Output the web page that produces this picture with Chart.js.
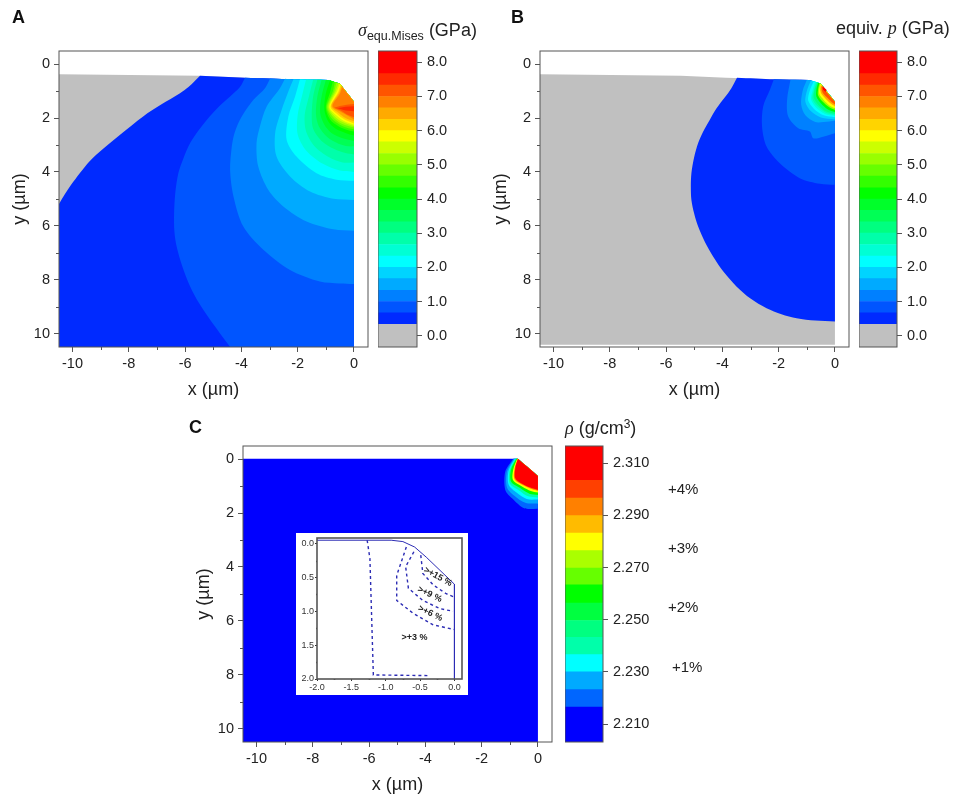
<!DOCTYPE html>
<html>
<head>
<meta charset="utf-8">
<script src="https://cdn.jsdelivr.net/npm/chart.js@4"></script>
<style>
  html, body { margin: 0; background: #fff; overflow: hidden; }
  #page { position: relative; width: 957px; height: 802px; font-family: "Liberation Sans", Arial, sans-serif; color: #222; filter: blur(0.35px); }
  canvas { position: absolute; }
  .txt { position: absolute; white-space: nowrap; line-height: 1; }
  .txt i { font-family: "Liberation Serif", serif; }
  .letter { font-weight: bold; font-size: 18px; color: #111; }
  .cb { font-size: 18px; }
  .cb sub { font-size: 12.5px; vertical-align: -4px; }
  .cb sup { font-size: 12px; vertical-align: 6px; line-height: 0; }
  .pct { font-size: 15px; }
</style>
</head>
<body>
<div id="page">
  <div class="txt letter" style="left:12px;top:8px">A</div>
  <div class="txt letter" style="left:511px;top:8px">B</div>
  <div class="txt letter" style="left:189px;top:418px">C</div>
  <div class="txt cb" style="left:358px;top:21px"><i>σ</i><sub>equ.Mises</sub> (GPa)</div>
  <div class="txt cb" style="left:836px;top:19px">equiv. <i>p</i> (GPa)</div>
  <div class="txt cb" style="left:565px;top:419px"><i>ρ</i> (g/cm<sup>3</sup>)</div>
  <div class="txt pct" style="left:668px;top:481px">+4%</div>
  <div class="txt pct" style="left:668px;top:540px">+3%</div>
  <div class="txt pct" style="left:668px;top:599px">+2%</div>
  <div class="txt pct" style="left:672px;top:659px">+1%</div>
</div>
<script>
const axisColor = '#555';
const textColor = '#222';
const xTicks = [-10, -8, -6, -4, -2, 0];
const xMinor = [-9, -7, -5, -3, -1];
const yTicks = [0, 2, 4, 6, 8, 10];
const yMinor = [1, 3, 5, 7, 9];

// colour bar bands A and B: gray first, then blue up to red
const stressEdges = [-0.33, 0.33, 0.67, 1.0, 1.33, 1.67, 2.0, 2.33, 2.67, 3.0, 3.33, 3.67, 4.0, 4.33, 4.67, 5.0, 5.33, 5.67, 6.0, 6.33, 6.67, 7.0, 7.33, 7.67, 8.33];
const stressColors = ['#c0c0c0', '#002aff', '#0055ff', '#0080ff', '#00aaff', '#00d4ff', '#00ffff', '#00ffd4', '#00ffaa', '#00ff80', '#00ff55', '#00ff2a', '#00ff00', '#33ff00', '#66ff00', '#99ff00', '#ccff00', '#ffff00', '#ffd400', '#ffaa00', '#ff8000', '#ff5500', '#ff2a00', '#ff0000'];
const stressTicks = [0, 1, 2, 3, 4, 5, 6, 7, 8];

// colour bar C
const rhoEdges = [2.2031, 2.2165, 2.2232, 2.230, 2.2366, 2.2432, 2.2497, 2.2564, 2.2634, 2.2698, 2.2765, 2.2832, 2.2899, 2.2966, 2.3034, 2.3166];
const rhoColors = ['#0000ff', '#0066ff', '#00aaff', '#00ffff', '#00ffaa', '#00ff80', '#00ff40', '#00ff00', '#66ff00', '#aaff00', '#ffff00', '#ffbb00', '#ff8000', '#ff4000', '#ff0000'];
const rhoTicks = [2.21, 2.23, 2.25, 2.27, 2.29, 2.31];

// indented surface, x and y in µm
const surfaceAB = [[-10.5, 0.37], [-5.47, 0.43], [-3.87, 0.5], [-2.15, 0.56], [-0.91, 0.59], [-0.5, 0.73], [0, 1.39]];
const surfaceC = [[-10.5, -0.02], [-0.71, -0.02], [0, 0.62]];

// contours of panel A, [band colour, points from the surface down to x = 0]
const contoursA = [
  [1, [[-5.47, 0.43], [-5.88, 0.85], [-6.18, 1.08], [-6.85, 1.5], [-7.49, 1.94], [-8.32, 2.63], [-8.9, 3.13], [-9.4, 3.61], [-10.05, 4.48], [-10.5, 5.22], [-10.5, 10.5], [0, 10.5]]],
  [2, [[-3.87, 0.5], [-4.05, 0.85], [-4.4, 1.2], [-4.82, 1.6], [-5.23, 2.07], [-5.55, 2.5], [-5.82, 2.93], [-6.06, 3.5], [-6.24, 4.05], [-6.35, 4.8], [-6.39, 5.53], [-6.38, 6.2], [-6.3, 6.77], [-6.1, 7.5], [-5.82, 8.25], [-5.5, 8.88], [-5.11, 9.49], [-4.4, 10.5], [0, 10.5]]],
  [3, [[-2.98, 0.53], [-3.16, 0.89], [-3.57, 1.32], [-3.87, 1.75], [-4.11, 2.19], [-4.26, 2.62], [-4.34, 3.06], [-4.4, 3.92], [-4.28, 4.91], [-3.93, 6.03], [-3.22, 6.89], [-2.27, 7.64], [-1.21, 8.07], [-0.5, 8.14], [0, 8.16]]],
  [4, [[-2.45, 0.54], [-2.63, 0.89], [-3.1, 1.57], [-3.34, 2.31], [-3.46, 2.93], [-3.4, 3.8], [-3.04, 4.67], [-2.51, 5.28], [-1.68, 5.84], [-0.73, 6.13], [0, 6.18]]],
  [5, [[-2.15, 0.56], [-2.33, 1.01], [-2.57, 1.7], [-2.8, 2.56], [-2.75, 3.43], [-2.27, 4.17], [-1.56, 4.73], [-0.73, 5.0], [0, 5.04]]],
  [6, [[-1.92, 0.56], [-2.09, 1.2], [-2.33, 1.94], [-2.39, 2.81], [-2.04, 3.43], [-1.33, 4.05], [-0.62, 4.29], [0, 4.33]]],
  [7, [[-1.7, 0.57], [-1.85, 1.2], [-2.0, 1.9], [-2.0, 2.6], [-1.7, 3.2], [-1.1, 3.7], [-0.5, 3.95], [0, 4.0]]],
  [8, [[-1.45, 0.58], [-1.6, 1.2], [-1.75, 1.9], [-1.7, 2.5], [-1.4, 3.05], [-0.9, 3.45], [-0.4, 3.65], [0, 3.65]]],
  [9, [[-1.3, 0.58], [-1.45, 1.2], [-1.5, 1.9], [-1.45, 2.4], [-1.15, 2.85], [-0.7, 3.15], [-0.3, 3.3], [0, 3.35]]],
  [10, [[-1.15, 0.59], [-1.3, 1.2], [-1.35, 1.85], [-1.25, 2.3], [-0.95, 2.7], [-0.55, 2.95], [-0.2, 3.05], [0, 3.05]]],
  [11, [[-1.0, 0.59], [-1.15, 1.2], [-1.2, 1.8], [-1.05, 2.25], [-0.8, 2.55], [-0.4, 2.75], [0, 2.85]]],
  [12, [[-0.85, 0.6], [-1.0, 1.1], [-1.05, 1.7], [-0.9, 2.15], [-0.65, 2.4], [-0.3, 2.55], [0, 2.65]]],
  [13, [[-0.75, 0.63], [-0.85, 1.05], [-1.0, 1.6], [-0.85, 2.05], [-0.55, 2.3], [-0.2, 2.45], [0, 2.5]]],
  [14, [[-0.68, 0.66], [-0.75, 1.0], [-0.97, 1.58], [-0.8, 2.0], [-0.5, 2.25], [-0.2, 2.38], [0, 2.42]]],
  [15, [[-0.62, 0.68], [-0.7, 1.0], [-0.94, 1.58], [-0.75, 1.95], [-0.45, 2.2], [0, 2.35]]],
  [16, [[-0.55, 0.71], [-0.65, 1.0], [-0.9, 1.58], [-0.7, 1.92], [-0.4, 2.15], [0, 2.3]]],
  [17, [[-0.5, 0.73], [-0.6, 1.0], [-0.87, 1.58], [-0.65, 1.88], [-0.37, 2.1], [0, 2.25]]],
  [18, [[-0.47, 0.76], [-0.55, 1.02], [-0.83, 1.58], [-0.6, 1.85], [-0.33, 2.05], [0, 2.2]]],
  [19, [[-0.44, 0.8], [-0.52, 1.05], [-0.8, 1.55], [-0.55, 1.8], [-0.3, 2.0], [0, 2.12]]],
  [20, [[-0.42, 0.85], [-0.5, 1.1], [-0.76, 1.55], [-0.5, 1.75], [-0.25, 1.9], [0, 2.05]]]
];
const spotsA = [
  [21, [[-0.7, 1.62], [-0.5, 1.55], [-0.2, 1.5], [0, 1.48], [0, 1.97], [-0.25, 1.87], [-0.45, 1.73]]],
  [22, [[-0.58, 1.64], [-0.3, 1.58], [0, 1.56], [0, 1.75], [-0.3, 1.72]]]
];

// contours of panel B
const contoursB = [
  [1, [[-3.48, 0.5], [-3.68, 0.89], [-3.91, 1.23], [-4.2, 1.63], [-4.45, 2.07], [-4.68, 2.5], [-4.86, 2.93], [-5.0, 3.45], [-5.1, 4.05], [-5.12, 4.55], [-5.1, 5.04], [-5.0, 5.55], [-4.86, 6.03], [-4.62, 6.6], [-4.33, 7.14], [-3.95, 7.72], [-3.5, 8.25], [-3.0, 8.7], [-2.43, 9.06], [-1.9, 9.28], [-1.36, 9.43], [-0.7, 9.52], [0, 9.55]]],
  [2, [[-2.17, 0.56], [-2.31, 0.95], [-2.55, 1.57], [-2.59, 2.31], [-2.43, 3.06], [-1.96, 3.68], [-1.25, 4.23], [-0.53, 4.44], [0, 4.48]]],
  [3, [[-1.58, 0.58], [-1.7, 1.32], [-1.66, 1.94], [-1.3, 2.38], [-0.89, 2.5], [-0.77, 2.75], [-0.42, 2.69], [0, 2.56]]],
  [4, [[-1.0, 0.59], [-1.15, 1.0], [-1.2, 1.5], [-1.05, 1.9], [-0.7, 2.15], [-0.4, 2.15], [0, 2.1]]],
  [5, [[-0.85, 0.6], [-1.0, 1.0], [-1.05, 1.4], [-0.85, 1.75], [-0.5, 1.98], [0, 2.05]]],
  [6, [[-0.75, 0.62], [-0.9, 1.0], [-0.95, 1.35], [-0.75, 1.65], [-0.4, 1.9], [0, 1.97]]],
  [7, [[-0.7, 0.64], [-0.8, 1.0], [-0.85, 1.3], [-0.68, 1.6], [-0.35, 1.85], [0, 1.92]]],
  [8, [[-0.66, 0.66], [-0.75, 0.98], [-0.8, 1.28], [-0.62, 1.56], [-0.32, 1.8], [0, 1.88]]],
  [9, [[-0.62, 0.68], [-0.72, 0.95], [-0.75, 1.25], [-0.58, 1.52], [-0.3, 1.76], [0, 1.84]]],
  [12, [[-0.6, 0.69], [-0.66, 0.95], [-0.66, 1.2], [-0.5, 1.45], [-0.25, 1.68], [0, 1.78]]],
  [15, [[-0.55, 0.71], [-0.6, 0.95], [-0.6, 1.15], [-0.45, 1.38], [-0.2, 1.6], [0, 1.7]]],
  [17, [[-0.52, 0.73], [-0.56, 0.95], [-0.55, 1.12], [-0.4, 1.33], [-0.2, 1.53], [0, 1.64]]],
  [19, [[-0.5, 0.76], [-0.52, 0.95], [-0.48, 1.1], [-0.33, 1.28], [-0.15, 1.46], [0, 1.56]]],
  [21, [[-0.47, 0.82], [-0.47, 0.95], [-0.42, 1.08], [-0.28, 1.24], [-0.12, 1.4], [0, 1.5]]]
];
const spotsB = [
  [23, [[-0.45, 0.8], [-0.42, 0.95], [-0.33, 1.03], [-0.3, 0.95]]]
];

// contours of panel C
const contoursC = [
  [1, [[-0.88, -0.02], [-1.16, 0.46], [-1.16, 1.14], [-0.92, 1.45], [-0.49, 1.82], [0, 1.84]]],
  [2, [[-0.85, -0.02], [-1.1, 0.45], [-1.1, 1.05], [-0.85, 1.35], [-0.45, 1.62], [0, 1.65]]],
  [3, [[-0.82, -0.02], [-1.04, 0.42], [-1.04, 0.95], [-0.75, 1.25], [-0.4, 1.48], [0, 1.5]]],
  [4, [[-0.8, -0.02], [-1.0, 0.4], [-1.0, 0.9], [-0.68, 1.15], [-0.35, 1.38], [0, 1.42]]],
  [7, [[-0.77, -0.02], [-0.96, 0.4], [-0.95, 0.84], [-0.62, 1.08], [-0.3, 1.28], [0, 1.33]]],
  [10, [[-0.74, -0.02], [-0.88, 0.4], [-0.88, 0.78], [-0.55, 1.02], [-0.25, 1.18], [0, 1.24]]],
  [12, [[-0.72, -0.02], [-0.83, 0.35], [-0.83, 0.74], [-0.5, 0.98], [-0.2, 1.12], [0, 1.18]]],
  [14, [[-0.71, -0.02], [-0.8, 0.3], [-0.8, 0.72], [-0.5, 0.95], [-0.2, 1.08], [0, 1.14]]]
];

// inset of panel C
const insetXTicks = [-2, -1.5, -1, -0.5, 0];
const insetYTicks = [0, 0.5, 1, 1.5, 2];
const insetXMinor = [-1.75, -1.25, -0.75, -0.25];
const insetYMinor = [0.25, 0.75, 1.25, 1.75];
const insetSurface = [[-2, -0.05], [-0.92, -0.05], [-0.75, -0.03], [-0.58, 0.05], [-0.41, 0.2], [0, 0.6], [0, 2]];
const insetDashed = [
  [[-1.27, -0.05], [-1.23, 0.22], [-1.18, 1.94], [-0.36, 1.95]],
  [[-0.7, 0.05], [-0.84, 0.47], [-0.84, 0.84], [-0.6, 1.03], [-0.31, 1.2], [0, 1.27]],
  [[-0.59, 0.12], [-0.71, 0.34], [-0.67, 0.66], [-0.46, 0.84], [-0.21, 0.96], [-0.02, 1.0]],
  [[-0.49, 0.17], [-0.46, 0.44], [-0.31, 0.61], [-0.12, 0.74], [0, 0.79]]
];
const insetNotes = ['>+15 %', '>+9 %', '>+6 %', '>+3 %'];
const insetNoteX = [-0.24, -0.36, -0.35, -0.58];
const insetNoteY = [0.49, 0.75, 1.03, 1.38];
const insetNoteTurn = [0.5, 0.45, 0.45, 0];

const toXY = pts => pts.map(p => ({ x: p[0], y: p[1] }));

// a point given twice keeps its corner when the line is curved
const isCorner = p => p[0] <= -10.5 || p[1] >= 10.5 || p[0] === 0;
const sharpen = pts => pts.flatMap(p => (isCorner(p) ? [p, p] : [p]));

// a contour closes along the surface it started from
function closeOnSurface(curve, surface) {
  const back = surface.filter(p => p[0] > curve[0][0]).reverse().flatMap(p => [p, p]);
  return [curve[0]].concat(sharpen(curve), back, [curve[0], curve[0]]);
}

function fillSet(color, pts, tension) {
  return { data: toXY(pts), showLine: true, fill: 'shape', backgroundColor: color, borderWidth: 0, pointRadius: 0, tension };
}

// frame round the plot and the short unlabelled ticks
const framePlugin = {
  id: 'frame',
  afterDraw(chart, args, opts) {
    const { ctx, chartArea: a, scales } = chart;
    ctx.save();
    ctx.strokeStyle = axisColor;
    ctx.lineWidth = opts.lineWidth || 1;
    ctx.strokeRect(a.left, a.top, a.right - a.left, a.bottom - a.top);
    (opts.minorX || []).forEach(v => {
      const px = Math.round(scales.x.getPixelForValue(v)) + 0.5;
      ctx.beginPath(); ctx.moveTo(px, a.bottom); ctx.lineTo(px, a.bottom + opts.minorLength); ctx.stroke();
    });
    (opts.minorY || []).forEach(v => {
      const py = Math.round(scales.y.getPixelForValue(v)) + 0.5;
      ctx.beginPath(); ctx.moveTo(a.left, py); ctx.lineTo(a.left - opts.minorLength, py); ctx.stroke();
    });
    ctx.restore();
  }
};

const notePlugin = {
  id: 'notes',
  afterDatasetsDraw(chart) {
    const { ctx, scales } = chart;
    ctx.save();
    ctx.fillStyle = '#222';
    ctx.font = 'bold 9px "Liberation Sans"';
    ctx.textAlign = 'center';
    ctx.textBaseline = 'middle';
    insetNotes.forEach((t, i) => {
      ctx.save();
      ctx.translate(scales.x.getPixelForValue(insetNoteX[i]), scales.y.getPixelForValue(insetNoteY[i]));
      ctx.rotate(insetNoteTurn[i]);
      ctx.fillText(t, 0, 0);
      ctx.restore();
    });
    ctx.restore();
  }
};

// the scales must not push the plot area in for their end labels
function fixBox(s, width, height) {
  if (width) s.width = width;
  if (height) s.height = height;
  s.paddingLeft = s.paddingRight = s.paddingTop = s.paddingBottom = 0;
}

function addCanvas(left, top, width, height, bg) {
  const c = document.createElement('canvas');
  c.width = width;
  c.height = height;
  c.style.left = left + 'px';
  c.style.top = top + 'px';
  if (bg) c.style.background = bg;
  document.getElementById('page').appendChild(c);
  return c.getContext('2d');
}

function panel(frameLeft, frameTop, base, colors, curves, spots, surface) {
  const layers = [[colors[0], base, 0]];
  curves.forEach(c => layers.push([colors[c[0]], closeOnSurface(c[1], surface), 0.3]));
  spots.forEach(s => layers.push([colors[s[0]], s[1].concat([s[1][0]]), 0]));
  // chart.js paints the first dataset last, so the outermost layer goes at the end
  const datasets = layers.reverse().map(l => fillSet(l[0], l[1], l[2]));
  const ctx = addCanvas(frameLeft - 50, frameTop - 6, 50 + 309 + 5, 6 + 296 + 54);
  new Chart(ctx, {
    type: 'scatter',
    data: { datasets },
    options: {
      responsive: false,
      animation: false,
      layout: { padding: { top: 6, right: 5, left: 0, bottom: 0 } },
      plugins: { legend: { display: false }, tooltip: { enabled: false }, frame: { minorX: xMinor, minorY: yMinor, minorLength: 3 } },
      scales: {
        x: {
          type: 'linear', min: -10.48, max: 0.5,
          afterBuildTicks: s => { s.ticks = xTicks.map(v => ({ value: v })); },
          afterFit: s => fixBox(s, 0, 54),
          grid: { drawOnChartArea: false, tickLength: 5, tickColor: axisColor },
          border: { display: false },
          ticks: { color: textColor, padding: 3, maxRotation: 0, autoSkip: false, font: { family: 'Liberation Sans', size: 14.5 }, callback: v => String(v) },
          title: { display: true, text: 'x (µm)', color: textColor, padding: 0, font: { family: 'Liberation Sans', size: 18 } }
        },
        y: {
          type: 'linear', reverse: true, min: -0.49, max: 10.5,
          afterBuildTicks: s => { s.ticks = yTicks.map(v => ({ value: v })); },
          afterFit: s => fixBox(s, 50, 0),
          grid: { drawOnChartArea: false, tickLength: 5, tickColor: axisColor },
          border: { display: false },
          ticks: { color: textColor, padding: 4, autoSkip: false, font: { family: 'Liberation Sans', size: 14.5 }, callback: v => String(v) },
          title: { display: true, text: 'y (µm)', color: textColor, padding: 0, font: { family: 'Liberation Sans', size: 18 } }
        }
      }
    },
    plugins: [framePlugin]
  });
}

function colorBar(left, top, width, edges, colors, ticks, digits) {
  const datasets = colors.map((c, i) => ({ data: [[edges[i], edges[i + 1]]], backgroundColor: c, borderWidth: 0, barPercentage: 1, categoryPercentage: 1 }));
  const ctx = addCanvas(left, top - 6, width + 60, 6 + 296 + 6);
  new Chart(ctx, {
    type: 'bar',
    data: { labels: [''], datasets },
    options: {
      responsive: false,
      animation: false,
      layout: { padding: { top: 6, bottom: 6, left: 0, right: 0 } },
      plugins: { legend: { display: false }, tooltip: { enabled: false }, frame: { lineWidth: 1 } },
      scales: {
        x: { stacked: true, display: false },
        y: {
          position: 'right', min: edges[0], max: edges[edges.length - 1],
          afterBuildTicks: s => { s.ticks = ticks.map(v => ({ value: v })); },
          afterFit: s => fixBox(s, 60, 0),
          grid: { drawOnChartArea: false, tickLength: 5, tickColor: axisColor },
          border: { display: false },
          ticks: { color: textColor, padding: 5, autoSkip: false, font: { family: 'Liberation Sans', size: 14.5 }, callback: v => v.toFixed(digits) }
        }
      }
    },
    plugins: [framePlugin]
  });
}

function inset() {
  const ctx = addCanvas(296, 533, 172, 162, '#fff');
  const lineSet = (pts, dash, w) => ({ data: toXY(pts), showLine: true, fill: false, borderColor: '#2c2cb4', borderWidth: w, borderDash: dash, pointRadius: 0, tension: 0 });
  new Chart(ctx, {
    type: 'scatter',
    data: { datasets: [lineSet(insetSurface, [], 1)].concat(insetDashed.map(d => lineSet(d, [3, 3], 1.4))) },
    options: {
      responsive: false,
      animation: false,
      layout: { padding: { top: 5, right: 6, left: 0, bottom: 0 } },
      plugins: { legend: { display: false }, tooltip: { enabled: false }, frame: { lineWidth: 1.6, minorX: insetXMinor, minorY: insetYMinor, minorLength: 1 } },
      scales: {
        x: {
          type: 'linear', min: -2, max: 0.11,
          afterBuildTicks: s => { s.ticks = insetXTicks.map(v => ({ value: v })); },
          afterFit: s => fixBox(s, 0, 16),
          grid: { drawOnChartArea: false, tickLength: 2, tickColor: '#333' },
          border: { display: false },
          ticks: { color: '#333', padding: 1, maxRotation: 0, autoSkip: false, font: { family: 'Liberation Sans', size: 9 }, callback: v => v.toFixed(1) }
        },
        y: {
          type: 'linear', reverse: true, min: -0.083, max: 2,
          afterBuildTicks: s => { s.ticks = insetYTicks.map(v => ({ value: v })); },
          afterFit: s => fixBox(s, 21, 0),
          grid: { drawOnChartArea: false, tickLength: 2, tickColor: '#333' },
          border: { display: false },
          ticks: { color: '#333', padding: 1, autoSkip: false, font: { family: 'Liberation Sans', size: 9 }, callback: v => v.toFixed(1) }
        }
      }
    },
    plugins: [framePlugin, notePlugin]
  });
}

const baseAB = surfaceAB.concat([[0, 10.5], [-10.5, 10.5], surfaceAB[0]]);
const baseB = surfaceAB.concat([[0, 10.42], [-10.5, 10.42], surfaceAB[0]]);
const baseC = surfaceC.concat([[0, 10.5], [-10.5, 10.5], surfaceC[0]]);

panel(59, 51, baseAB, stressColors, contoursA, spotsA, surfaceAB);
colorBar(378, 51, 39, stressEdges, stressColors, stressTicks, 1);
panel(540, 51, baseB, stressColors, contoursB, spotsB, surfaceAB);
colorBar(859, 51, 38, stressEdges, stressColors, stressTicks, 1);
panel(243, 446, baseC, rhoColors, contoursC, [], surfaceC);
colorBar(565, 446, 38, rhoEdges, rhoColors, rhoTicks, 3);
inset();
</script>
</body>
</html>
